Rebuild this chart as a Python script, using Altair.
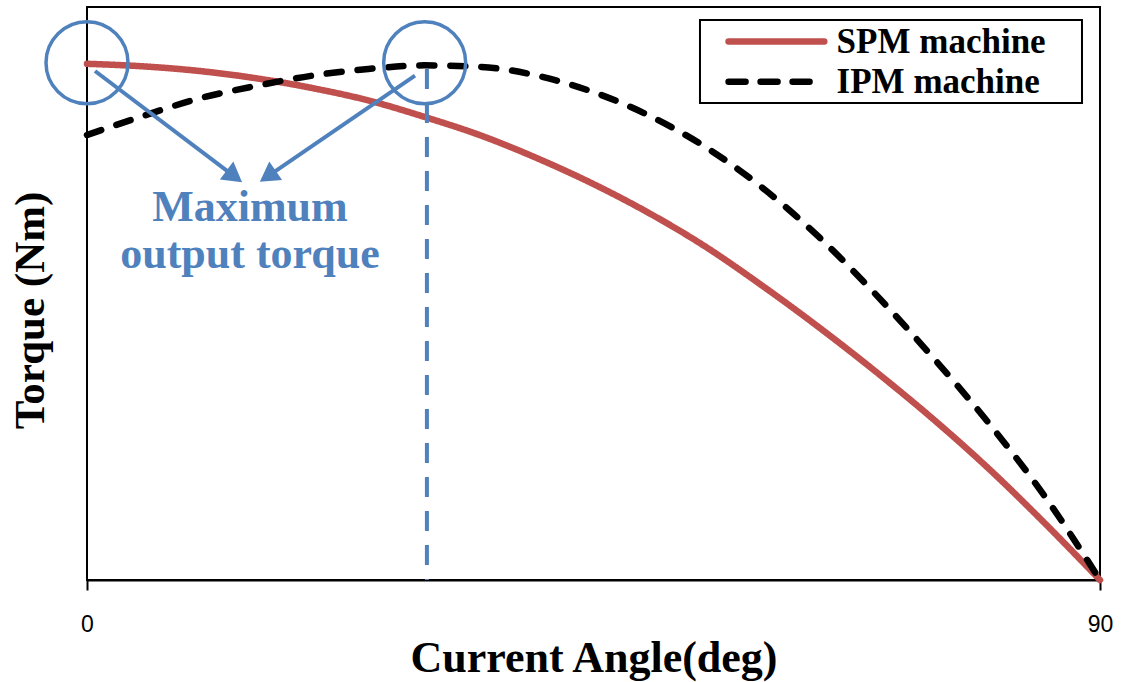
import altair as alt
import pandas as pd

# ---- data ----
angles = [0, 5, 10, 15, 20, 25, 30, 35, 40, 45, 50, 55, 60, 65, 70, 75, 80, 85, 90]
spm_torque = [1.000, 0.995, 0.986, 0.972, 0.953, 0.929, 0.897, 0.861, 0.817, 0.767,
              0.710, 0.645, 0.570, 0.490, 0.405, 0.315, 0.218, 0.112, 0.0]
ipm_torque = [0.862, 0.899, 0.933, 0.957, 0.977, 0.990, 0.997, 0.994, 0.977, 0.945,
              0.899, 0.838, 0.760, 0.665, 0.555, 0.435, 0.307, 0.165, 0.0]
series_names = ["SPM machine", "IPM machine"]
series_colors = ["#C0504D", "#000000"]
series_dash = [[1, 0], [15, 16]]

# annotation data
circle_angle = [0.0, 30.0]
circle_value = [1.002, 1.002]
peak_angle = [30.2]
peak_top = [0.99]
arrow_x = [0.71, 29.14]
arrow_y = [0.986, 0.977]
arrow_x2 = [13.09, 16.06]
arrow_y2 = [0.782, 0.782]
arrow_rot = [127, 235]
note_lines = ["Maximum", "output torque"]
note_angle = [14.48, 14.48]
note_value = [0.696, 0.605]

# legend data (drawn in data units)
legend_box = {"x": 54.46, "x2": 88.4, "y": 0.924, "y2": 1.085}
legend_line_x = [57.0, 57.0]
legend_line_x2 = [65.5, 64.9]
legend_line_y = [1.043, 0.965]
legend_text_x = [66.6, 66.6]

BLUE = "#4F81BD"
SERIF = "Liberation Serif"

rows = []
for name, vals in zip(series_names, [spm_torque, ipm_torque]):
    for a, v in zip(angles, vals):
        rows.append({"angle": a, "torque": v, "series": name})
df = pd.DataFrame(rows)

x_scale = alt.Scale(domain=[0, 90], nice=False)
y_scale = alt.Scale(domain=[0, 1.11], nice=False)

x_axis = alt.Axis(values=[0, 90], tickSize=10, tickWidth=2, tickColor="black",
                  domain=True, domainColor="black", domainWidth=2, grid=False,
                  labelFont="Liberation Sans", labelFontSize=23, labelColor="black",
                  labelPadding=23, labelFlush=False,
                  title="Current Angle(deg)", titleFont=SERIF, titleFontSize=44,
                  titleFontWeight="bold", titleColor="black", titlePadding=0)
y_axis = alt.Axis(labels=False, ticks=False, domain=False, grid=False,
                  title="Torque (Nm)", titleFont=SERIF, titleFontSize=43,
                  titleFontWeight="bold", titleColor="black", titleAngle=270,
                  titleX=-44, titleY=303, titleAlign="center", titleBaseline="alphabetic")


def X(field):
    return alt.X(field, type="quantitative", scale=x_scale, axis=x_axis)


def Y(field):
    return alt.Y(field, type="quantitative", scale=y_scale, axis=y_axis)


lines = alt.Chart(df).mark_line(strokeWidth=6.5, interpolate="monotone", strokeCap="round").encode(
    x=X("angle"), y=Y("torque"),
    color=alt.Color("series:N", scale=alt.Scale(domain=series_names, range=series_colors), legend=None),
    strokeDash=alt.StrokeDash("series:N", scale=alt.Scale(domain=series_names, range=series_dash), legend=None),
    detail="series:N",
)

peak_df = pd.DataFrame({"a": peak_angle, "top": peak_top, "bottom": [0.0]})
peak = alt.Chart(peak_df).mark_rule(color=BLUE, strokeWidth=4, strokeDash=[20, 14]).encode(
    x=X("a"), y=Y("top"), y2="bottom")

circ_df = pd.DataFrame({"a": circle_angle, "v": circle_value})
circles = alt.Chart(circ_df).mark_point(shape="circle", size=6724, stroke=BLUE,
                                          strokeWidth=3.5, filled=False, opacity=1).encode(
    x=X("a"), y=Y("v"))

arr_df = pd.DataFrame({"x": arrow_x, "y": arrow_y, "x2": arrow_x2, "y2": arrow_y2, "rot": arrow_rot})
arrows = alt.Chart(arr_df).mark_rule(color=BLUE, strokeWidth=4).encode(
    x=X("x"), y=Y("y"), x2="x2", y2="y2")
heads = alt.Chart(arr_df).mark_point(shape="triangle-up", size=500, filled=True,
                                       color=BLUE, opacity=1).encode(
    x=X("x2"), y=Y("y2"), angle=alt.Angle("rot:Q", scale=None))

note_df = pd.DataFrame({"t": note_lines, "a": note_angle, "v": note_value})
notes = alt.Chart(note_df).mark_text(font=SERIF, fontSize=44, fontWeight="bold", color=BLUE,
                                       align="center", baseline="alphabetic").encode(
    x=X("a"), y=Y("v"), text="t:N")

box_df = pd.DataFrame([legend_box])
box = alt.Chart(box_df).mark_rect(fill="white", stroke="black", strokeWidth=2).encode(
    x=X("x"), x2="x2", y=Y("y"), y2="y2")

leg_df = pd.DataFrame({"name": series_names, "x": legend_line_x, "x2": legend_line_x2,
                       "y": legend_line_y, "tx": legend_text_x})
leg_spm = alt.Chart(leg_df.iloc[[0]]).mark_rule(color=series_colors[0], strokeWidth=6.5,
                                                 strokeCap="round").encode(
    x=X("x"), x2="x2", y=Y("y"))
leg_ipm = alt.Chart(leg_df.iloc[[1]]).mark_rule(color=series_colors[1], strokeWidth=6.5,
                                                 strokeCap="round", strokeDash=[17, 15]).encode(
    x=X("x"), x2="x2", y=Y("y"))
leg_text = alt.Chart(leg_df).mark_text(font=SERIF, fontSize=35, fontWeight="bold", color="black",
                                        align="left", baseline="middle").encode(
    x=X("tx"), y=Y("y"), text="name:N")

chart = alt.layer(lines, peak, circles, arrows, heads, notes, box, leg_spm, leg_ipm, leg_text).properties(
    width=1013, height=573,
    padding={"left": 87, "top": 7, "right": 30, "bottom": 102},
    autosize=alt.AutoSizeParams(type="none"),
    background="white",
).configure_view(stroke="black", strokeWidth=2)

chart.save("out.html", embed_options={"renderer": "svg", "actions": False})
